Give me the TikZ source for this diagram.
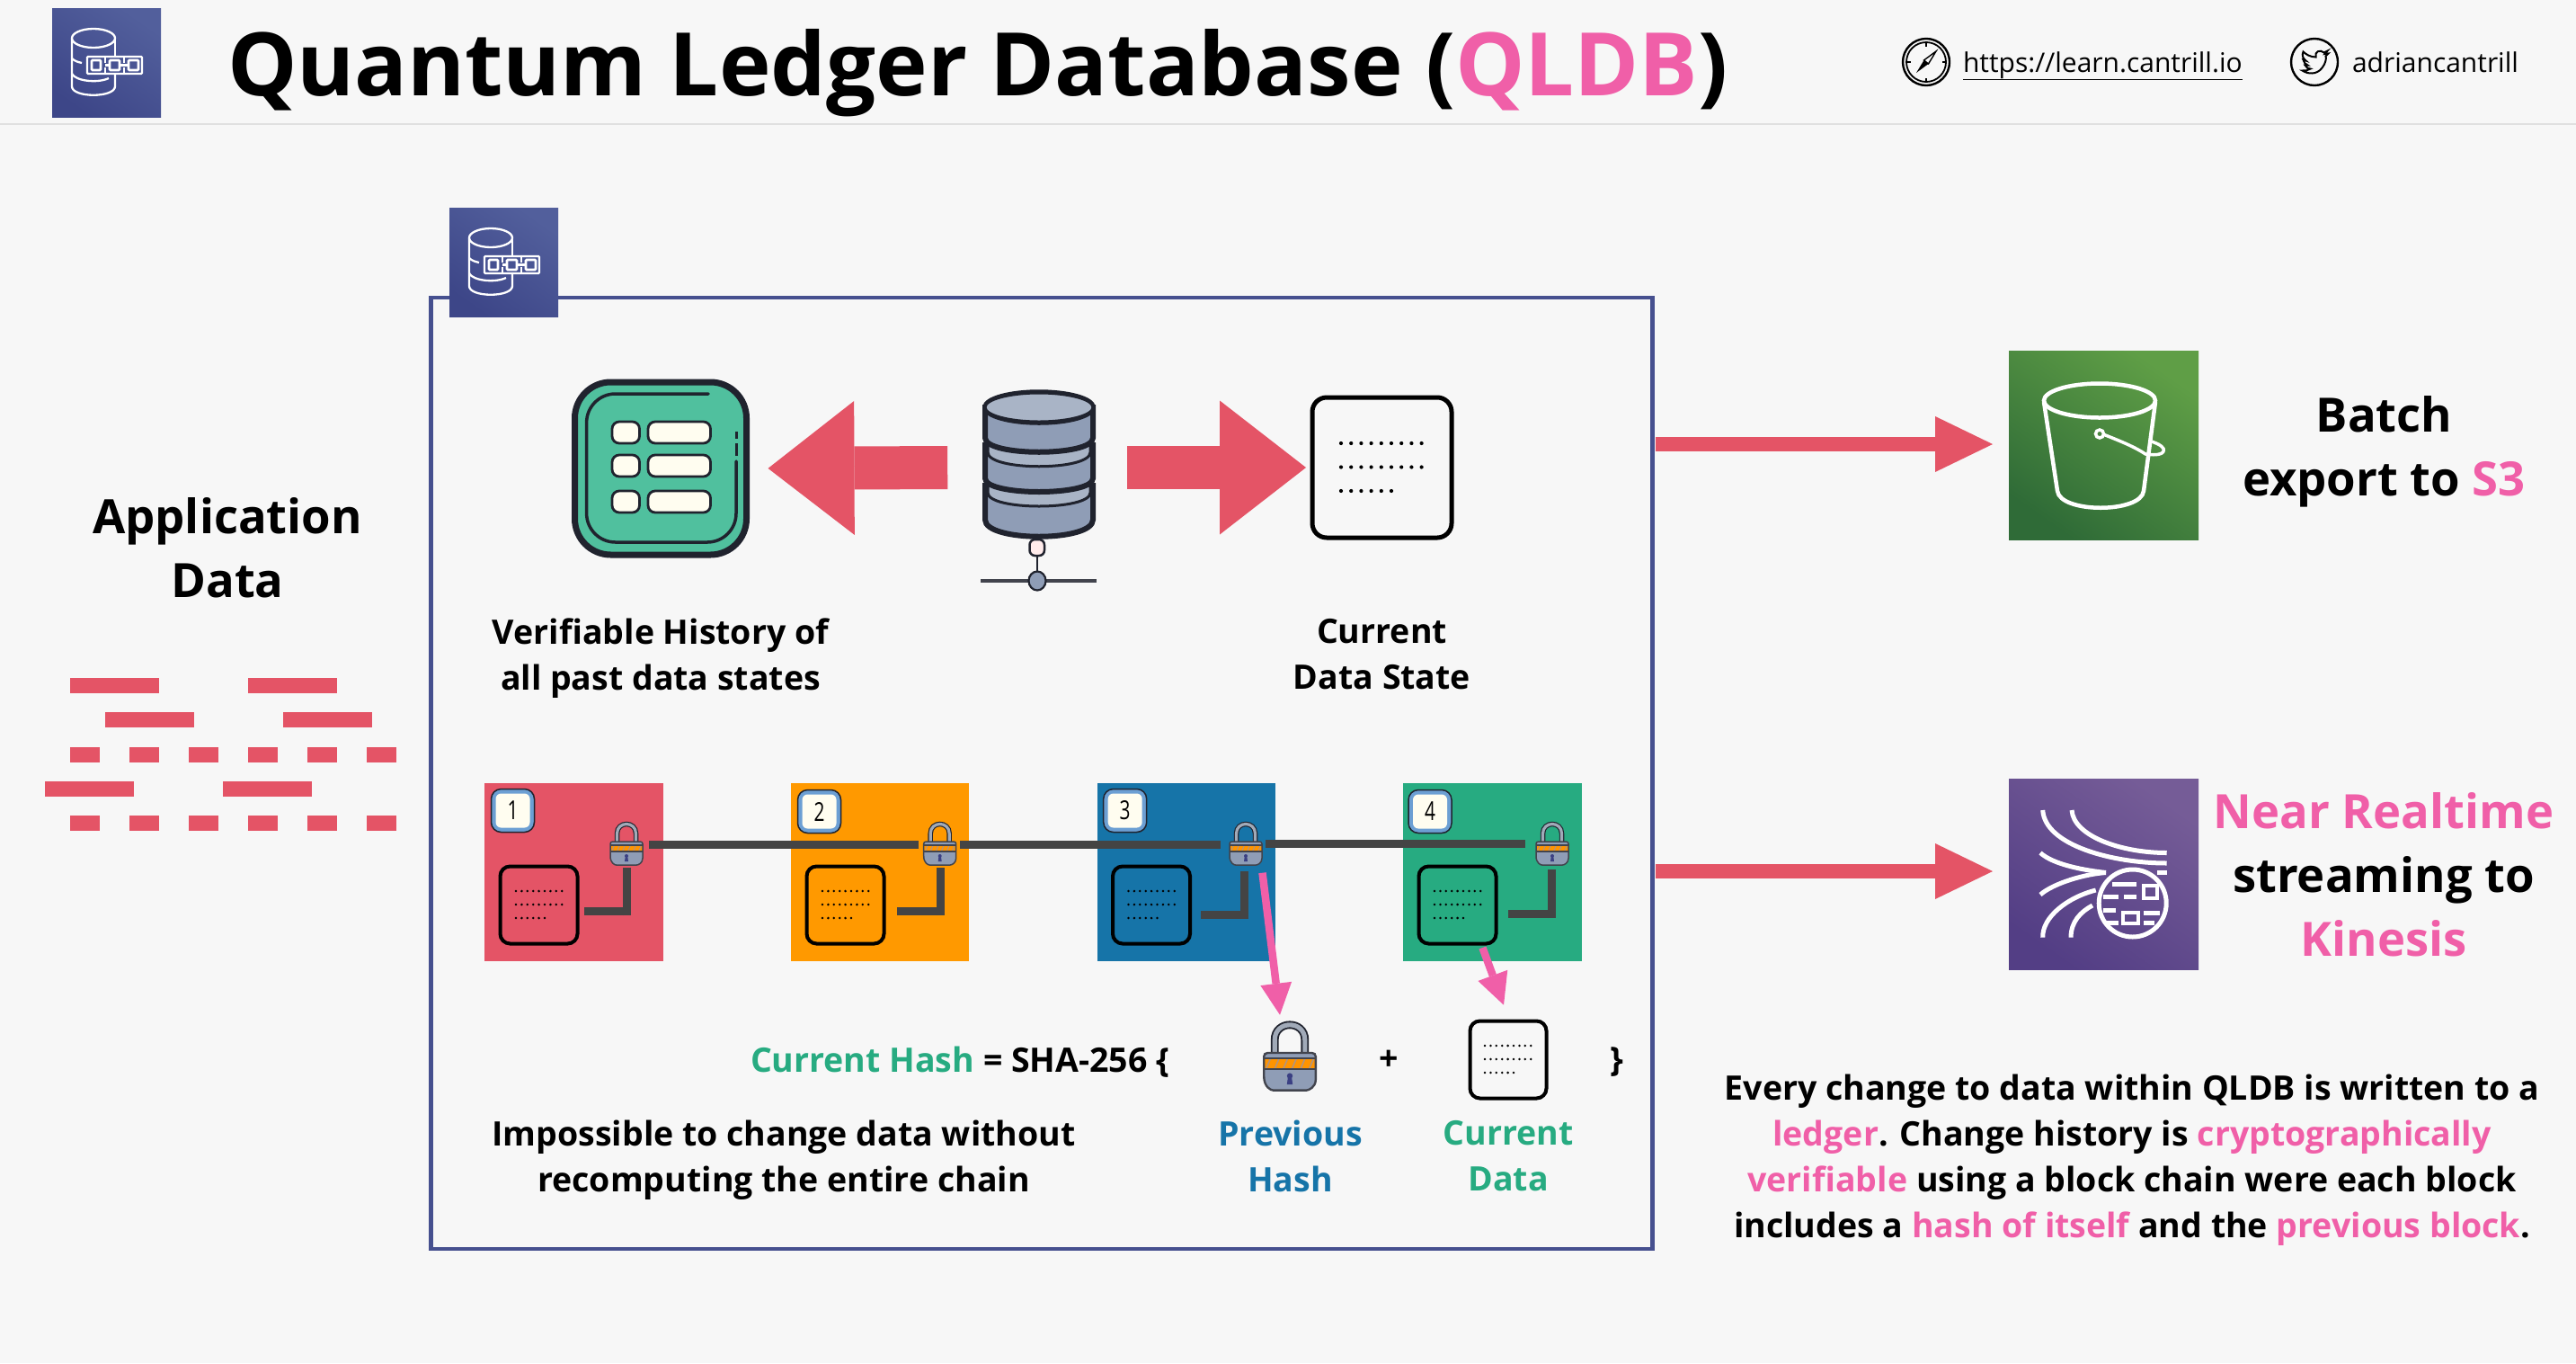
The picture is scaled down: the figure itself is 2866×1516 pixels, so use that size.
\documentclass[tikz,border=0pt]{standalone}
\usepackage{fontspec}
\usepackage{graphicx}
\setmainfont{Open Sans}
\usetikzlibrary{arrows.meta,shapes.geometric,calc}
\definecolor{bgc}{HTML}{F7F7F7}
\definecolor{redc}{HTML}{E45466}
\definecolor{orangec}{HTML}{FF9900}
\definecolor{bluec}{HTML}{1674A8}
\definecolor{greenc}{HTML}{27AB81}
\definecolor{pinkc}{HTML}{F05FA8}
\definecolor{navyc}{HTML}{46508F}
\definecolor{inkc}{HTML}{20232E}
\definecolor{barc}{HTML}{444444}
\definecolor{slatec}{HTML}{8F9DB6}
\definecolor{slatel}{HTML}{A9B4C6}
\definecolor{creamc}{HTML}{FFFDF0}
\definecolor{tealc}{HTML}{50C09E}
\definecolor{badgec}{HTML}{6C9FD3}
\newcommand{\pk}[1]{\textcolor{pinkc}{#1}}
\newcommand{\txtbig}{\fontsize{52.6}{71}\selectfont\bfseries}
\newcommand{\txtmid}{\fontsize{37.5}{51}\selectfont\bfseries}
\tikzset{
  txt/.style={inner sep=0pt,outer sep=0pt},
  plain/.style={rectangle,inner sep=0pt,outer sep=0pt,draw=none},
  databar/.style={fill=redc,draw=none},
  blockbox/.style={plain,minimum height=198,anchor=north west},
  docbox/.style={rectangle,draw=black,inner sep=0pt,outer sep=0pt,rounded corners=11,line width=4,minimum width=86,minimum height=86},
  badgeo/.style={rectangle,draw=inkc,fill=badgec,line width=1.5,rounded corners=11,inner sep=0pt,minimum width=48,minimum height=48},
  badgei/.style={rectangle,fill=creamc,rounded corners=6,inner sep=0pt,minimum width=38,minimum height=38,font=\fontsize{29}{29}\selectfont},
  chainbar/.style={draw=barc,line width=9},
  bigarrow/.style={draw=redc,line width=48,-{Triangle[length=96pt,width=149pt,fill=redc,line width=0pt]}},
  outarrow/.style={draw=redc,line width=16,-{Triangle[length=64pt,width=62pt,fill=redc,line width=0pt]}},
  pinkarrow/.style={draw=pinkc,line width=8.5,-{Triangle[length=35pt,width=35pt,fill=pinkc,line width=0pt]}},
  iconline/.style={draw=white,line width=2.3,fill=none},
  pics/qldbsym/.style={code={
    \draw[iconline] (46,33.5) ellipse [x radius=24,y radius=10.5];
    \draw[iconline] (22,33.5) -- (22,87) .. controls (22,100) and (70,100) .. (70,87) -- (70,74);
    \draw[iconline] (70,33.5) -- (70,53);
    \draw[iconline] (22,56) .. controls (25,59) and (29,60) .. (33,61);
    \draw[iconline] (22,73) .. controls (26,81) and (50,84) .. (63,78);
    \draw[iconline,rounded corners=1] (39,54) rectangle (100,73);
    \foreach \a/\b in {44/54,64/75,85/96}{\draw[iconline,line width=2.6,rounded corners=1] (\a,58) rectangle (\b,69);}
    \draw[iconline] (59,54) -- (59,61) (59,66) -- (59,73) (80,54) -- (80,61) (80,66) -- (80,73) (59,63.5) -- (64,63.5) (75,63.5) -- (85,63.5);
  }},
  pics/locksym/.style={code={
    \begin{scope}[scale=#1]
    \draw[inkc,line width=#1*5.5pt] (-10.5,22) -- (-10.5,11) .. controls (-10.5,-3) and (10.5,-3) .. (10.5,11) -- (10.5,22);
    \draw[slatel!80!gray,line width=#1*3.2pt] (-10.5,22) -- (-10.5,11) .. controls (-10.5,-3) and (10.5,-3) .. (10.5,11) -- (10.5,22);
    \fill[slatec] (-18,20) -- (18,20) -- (18,36) .. controls (18,44) and (13,46) .. (9,46) -- (-9,46) .. controls (-13,46) and (-18,44) .. (-18,36) -- cycle;
    \fill[orange!55!yellow!80!red] (-18,24) rectangle (18,31);
    \foreach \h in {-15,-9,-3,3,9,15}{\draw[slatec!70!orange,line width=#1*1pt] (\h-1.5,31) -- (\h+1.5,24);}
    \draw[inkc!85!white,line width=#1*1.3pt] (-18,24) -- (18,24) (-18,31) -- (18,31);
    \draw[inkc!85!white,line width=#1*1.5pt,rounded corners=#1*2.5pt] (-18,36) -- (-18,20) -- (18,20) -- (18,36) .. controls (18,44) and (13,46) .. (9,46) -- (-9,46) .. controls (-13,46) and (-18,44) .. (-18,36);
    \fill[blue!30!inkc!70!slatec] (0,36) circle (2) (-1.2,36) -- (1.2,36) -- (2,42) -- (-2,42) -- cycle;
    \end{scope}
  }},
}
\newcommand{\dotrows}[5]{%x0,ytop,dx,dy,r
  \foreach \k in {0,...,8}{\fill[black] ({#1+\k*#3},{#2}) circle (#5); \fill[black] ({#1+\k*#3},{#2+#4}) circle (#5);}
  \foreach \k in {0,...,5}{\fill[black] ({#1+\k*#3},{#2+2*#4}) circle (#5);}}
\begin{document}
\begin{tikzpicture}[x=1pt,y=-1pt,line cap=butt]
\useasboundingbox (0,0) rectangle (2866,1516);
\fill[bgc] (0,0) rectangle (2866,1516);
% header
\coordinate (hl) at (0,137.7); \coordinate (hr) at (2866,137.7);
\draw[black!12,line width=2] (hl) -- (hr);
\node[plain,minimum width=121,minimum height=121,anchor=north west,top color={rgb,255:red,82;green,95;blue,156},bottom color={rgb,255:red,61;green,70;blue,136},shading angle=-35] (icona) at (58,9) {};
\pic at (58,9) {qldbsym};
\node[txt,anchor=base west,font=\fontsize{97.5}{97.5}\selectfont\bfseries] (title) at (253,106) {Quantum Ledger Database (\pk{QLDB})};
\node[plain,circle,draw=black,line width=2.4,minimum size=52] (compass) at (2143,69) {};
\draw[black,line width=1.8] (2143,69) circle (22);
\foreach \a in {0,90,180,270}{\draw[black,line width=1.6] ($(compass)+(\a:22)$) -- ($(compass)+(\a:17.5)$);}
\fill[black] (2132,81) -- (2140.5,67) -- (2145.5,71) -- cycle;
\draw[black,line width=1.4,fill=bgc] (2154,57) -- (2140.5,67) -- (2145.5,71) -- cycle;
\node[txt,anchor=base west,font=\fontsize{30}{30}\selectfont] (link) at (2184,80) {\underline{https://learn.cantrill.io}};
\node[plain,circle,draw=black,line width=2.4,minimum size=52] (twit) at (2575,69) {};
\begin{scope}[shift={(2575.5,69.5)}]
\draw[black,line width=2] (-14,9) .. controls (-8,13) and (2,14) .. (8,6) .. controls (12,1) and (13,-5) .. (12,-7) -- (15,-10) -- (11,-9.5) -- (14,-13) -- (10,-11) .. controls (6,-15) and (-1,-12) .. (1,-6) .. controls (-5,-6) and (-10,-9) .. (-13,-12) .. controls (-15,-8) and (-13,-4) .. (-10,-2) -- (-13,-3) .. controls (-13,0) and (-10,2) .. (-8,3) -- (-11,3) .. controls (-10,6) and (-7,7) .. (-5,7) .. controls (-8,9) and (-11,9.5) .. (-14,9) -- cycle;
\end{scope}
\node[txt,anchor=base west,font=\fontsize{30}{30}\selectfont] (handle) at (2617,80) {adriancantrill};
% main box
\node[rectangle,draw=navyc,line width=4.5,inner sep=0pt,outer sep=0pt,minimum width=1359,minimum height=1058,anchor=north west] (qldb) at (479.5,331) {};
\node[plain,minimum width=121,minimum height=121,anchor=north west,top color={rgb,255:red,82;green,95;blue,156},bottom color={rgb,255:red,61;green,70;blue,136},shading angle=-35] (iconb) at (500,231) {};
\pic at (500,231) {qldbsym};
% application data
\node[txt,align=center,font=\txtbig] (appdata) at (253,609) {Application\\Data};
\foreach \xa/\xb/\ya/\yb in {78/177/754/771,276/375/754/771,117/216/792/809,315/414/792/809,50/149/869/886,248/347/869/886}{\fill[databar] (\xa,\ya) rectangle (\xb,\yb);}
\foreach \xa in {78,144,210,276,342,408}{\fill[databar] (\xa,831) rectangle (\xa+33,848); \fill[databar] (\xa,907) rectangle (\xa+33,924);}
% history
\node[rectangle,draw=inkc,fill=tealc,line width=7,rounded corners=40,inner sep=0pt,outer sep=0pt,minimum width=191,minimum height=192] (hist) at (735,521) {};
\draw[inkc,line width=3.5,rounded corners=32,line cap=round] (788,438) -- (652.6,438) -- (652.6,603) -- (819,603) -- (819,513);
\draw[inkc,line width=3] (819,493) -- (819,507) (819,480) -- (819,488);
\foreach \y in {468,505,545}{
  \draw[inkc,line width=2.8,fill=creamc,rounded corners=8] (681,\y+1) rectangle (711.5,\y+25);
  \draw[inkc,line width=2.8,fill=creamc,rounded corners=8] (721,\y+1) rectangle (790.5,\y+25);}
% database
\node[plain,minimum width=200,minimum height=170] (db) at (1154.2,520) {};
\draw[inkc,line width=6,fill=slatec] (1096,540) -- (1096,578) .. controls (1096,603) and (1216,603) .. (1216,578) -- (1216,540) -- cycle;
\draw[inkc,line width=3,fill=slatel] (1099,540) -- (1099,548) .. controls (1099,568) and (1213,568) .. (1213,548) -- (1213,540) -- cycle;
\draw[inkc,line width=6,fill=slatec] (1096,495) -- (1096,532) .. controls (1096,552) and (1216,552) .. (1216,532) -- (1216,495) -- cycle;
\draw[inkc,line width=3,fill=slatel] (1099,495) -- (1099,503) .. controls (1099,524) and (1213,524) .. (1213,503) -- (1213,495) -- cycle;
\draw[inkc,line width=6,fill=slatec] (1096,453) -- (1096,487) .. controls (1096,508) and (1216,508) .. (1216,487) -- (1216,453) -- cycle;
\draw[inkc,line width=5.5,fill=slatel] (1156,453) ellipse [x radius=60,y radius=17];
\draw[inkc,line width=3,fill=slatel] (1156,453) ellipse [x radius=60,y radius=16];
\draw[inkc,line width=2.5,fill=red!8!white,rounded corners=6] (1145.5,600) rectangle (1162,618);
\coordinate (nt) at (1154,618); \coordinate (nb) at (1154,646); \coordinate (nl) at (1091,646); \coordinate (nr) at (1220,646);
\draw[inkc,line width=2.5] (nt) -- (nb);
\draw[inkc!85!white,line width=4] (nl) -- (nr);
\node[ellipse,draw=inkc,fill=slatec,line width=2.2,inner sep=0pt,minimum width=19,minimum height=21] (ndot) at (nb) {};
% current data doc
\node[docbox,line width=5,minimum width=155,minimum height=156,rounded corners=16] (cur) at (1537.5,520) {};
\dotrows{1492}{493}{11.2}{26.5}{2.1}
% big arrows
\draw[bigarrow,shorten >=24pt] (db.west) -- (hist.east);
\draw[bigarrow,shorten >=7pt] (db.east) -- (cur.west);
% labels
\node[txt,align=center,font=\txtmid] (lhist) at (735,732) {Verifiable History of\\all past data states};
\node[txt,align=center,font=\txtmid] (lcur) at (1537.5,727.5) {Current\\Data State};
% blocks
\node[blockbox,minimum width=199,fill=redc] (b1) at (539,871) {};
\node[blockbox,minimum width=198,fill=orangec] (b2) at (880,871) {};
\node[blockbox,minimum width=198,fill=bluec] (b3) at (1221,871) {};
\node[blockbox,minimum width=199,fill=greenc] (b4) at (1561,871) {};
\foreach \i/\bx/\by/\n/\dx/\lx/\hx/\vx/\vy/\yy in {1/570.5/901.5/1/599.5/697/650/697.5/965/1013.5,2/911.5/902.5/2/940.5/1045.7/998/1046.5/965/1013.5,3/1251.7/901.5/3/1281/1386/1336/1384/969/1017.5,4/1591/902.5/4/1621.5/1727/1678/1726.5/967/1016.5}{
  \node[badgeo] (bo\i) at (\bx,\by) {};
  \node[badgei] (bi\i) at (\bx,\by) {\scalebox{0.72}[1]{\n}};
  \node[docbox] (d\i) at (\dx,1006.5) {};
  \coordinate (la\i) at (\hx,\yy); \coordinate (lb\i) at (\vx,\yy); \coordinate (lc\i) at (\vx,\vy);
  \draw[barc,line width=9,line cap=butt] (la\i) -- ($(lb\i)+(4.5,0)$);
  \draw[barc,line width=9] ($(lb\i)+(0,4.5)$) -- (lc\i);
  \pic at (\lx,916) {locksym=1};
  \dotrows{\dx-25.5}{991}{6.4}{15}{1.4}
}
% chain
\coordinate (c1a) at (722,939.5); \coordinate (c1b) at (1022,939.5);
\coordinate (c2a) at (1068,939.5); \coordinate (c2b) at (1357.6,939.5);
\coordinate (c3a) at (1408,938.5); \coordinate (c3b) at (1697,938.5);
\draw[chainbar] (c1a) -- (c1b);
\draw[chainbar] (c2a) -- (c2b);
\draw[chainbar] (c3a) -- (c3b);
% hash row
\node[txt,anchor=base west,font=\txtmid] (hash) at (835,1192.5) {\textcolor{greenc}{Current Hash} = SHA-256 \{};
\pic at (1435,1139) {locksym=1.6};
\node[txt,font=\txtmid] (plus) at (1545,1179) {+};
\node[docbox,minimum width=85,minimum height=86] (dbig) at (1678,1178.5) {};
\dotrows{1652}{1163}{6.4}{15}{1.4}
\node[txt,font=\txtmid] (brace) at (1799,1181) {\}};
\coordinate (p1a) at (1404.5,970.7); \coordinate (p1b) at (1424,1128.7);
\coordinate (p2a) at (1649.4,1054); \coordinate (p2b) at (1673,1117.7);
\draw[pinkarrow] (p1a) -- (p1b);
\draw[pinkarrow] (p2a) -- (p2b);
\node[txt,align=center,font=\txtmid] (limp) at (872,1290.5) {Impossible to change data without\\recomputing the entire chain};
\node[txt,align=center,font=\txtmid,text=bluec] (lprev) at (1435.5,1286) {Previous\\Hash};
\node[txt,align=center,font=\txtmid,text=greenc] (lcd) at (1678,1286) {Current\\Data};
% S3
\node[plain,minimum width=211,minimum height=210.5,anchor=north west,top color={rgb,255:red,95;green,158;blue,70},bottom color={rgb,255:red,47;green,107;blue,55},shading angle=-35] (s3) at (2235,390) {};
\draw[white,line width=4.5] (2336,445.5) ellipse [x radius=62,y radius=19];
\draw[white,line width=4.5] (2274,447) -- (2289,546) .. controls (2292,571) and (2382,571) .. (2385,546) -- (2398,447);
\draw[white,line width=3.5,fill=none] (2336,482.5) circle (4.5);
\draw[white,line width=3.5] (2340,483) .. controls (2360,491) and (2375,497) .. (2387,505) .. controls (2400,507) and (2409,505) .. (2407,499) .. controls (2405,495) and (2399,493) .. (2394,491);
\node[txt,align=center,font=\txtbig] (ls3) at (2652.5,502.5) {Batch\\export to \pk{S3}};
% Kinesis
\node[plain,minimum width=211,minimum height=212,anchor=north west,top color={rgb,255:red,117;green,92;blue,151},bottom color={rgb,255:red,83;green,62;blue,133},shading angle=-35] (kin) at (2235,866) {};
\begin{scope}[white,line width=5]
\draw (2272.7,901) .. controls (2275,940) and (2350,960) .. (2410.7,960);
\draw (2305,901) .. controls (2307,930) and (2360,948.5) .. (2410.7,948.5);
\draw (2270,948.5) .. controls (2285,962) and (2320,968) .. (2343,970.5);
\draw (2270,995) .. controls (2285,982) and (2320,972) .. (2343,970.5);
\draw (2272.7,1042.6) .. controls (2272,1020) and (2300,998) .. (2331.7,990);
\draw (2304,1042.6) .. controls (2304,1025) and (2315,1014) .. (2328,1007);
\draw (2400,970.5) -- (2410.7,970.5);
\draw (2372.7,1004.5) circle (37.5);
\draw (2350,983) -- (2376.7,983) (2340,997) -- (2357,997) (2363,997) -- (2377,997) (2340,1012) -- (2354,1012) (2385,1015) -- (2403,1015) (2343,1026) -- (2357,1026) (2385,1026) -- (2397,1026);
\draw[line width=4.2] (2385,985) rectangle (2400,999) (2362,1015) rectangle (2379,1027);
\end{scope}
\node[txt,align=center,font=\txtbig] (lkin) at (2652,973) {\pk{Near Realtime}\\streaming to\\\pk{Kinesis}};
% output arrows
\coordinate (o1) at (1842,494); \coordinate (o1b) at (2217,494);
\coordinate (o2) at (1842,969); \coordinate (o2b) at (2217,969);
\draw[outarrow] (o1) -- (o1b);
\draw[outarrow] (o2) -- (o2b);
% paragraph
\node[txt,align=center,font=\txtmid] (para) at (2372,1290.5) {Every change to data within QLDB is written to a\\\pk{ledger}. Change history is \pk{cryptographically}\\\pk{verifiable} using a block chain were each block\\includes a \pk{hash of itself} and the \pk{previous block}.};
\end{tikzpicture}
\end{document}
